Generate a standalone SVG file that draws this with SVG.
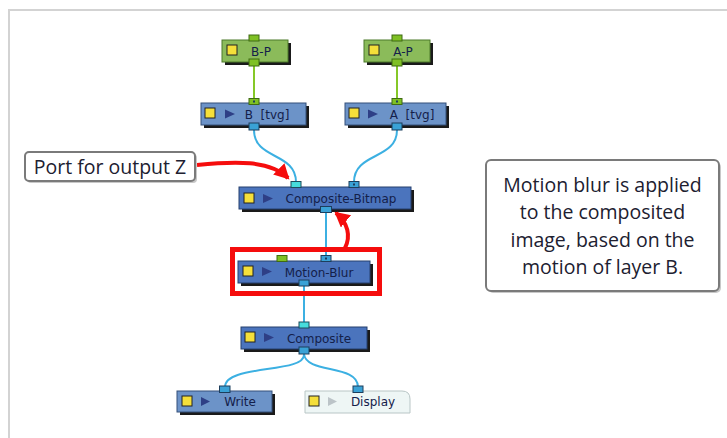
<svg xmlns="http://www.w3.org/2000/svg" width="727" height="438" viewBox="0 0 727 438">
<defs>
<style>
.frame{fill:none;stroke:#d3d3d3;stroke-width:2}
.sh{fill:#1a1a1a}
.nb{fill:#4b74bd;stroke:#26406e;stroke-width:1}
.nl{fill:#6c93c8;stroke:#34507a;stroke-width:1}
.ng{fill:#8bbb5a;stroke:#4d7a2a;stroke-width:1}
.nd{fill:#eef6f5;stroke:#b9c6c6;stroke-width:1}
.ys{fill:#f5df3a;stroke:#222;stroke-width:1}
.tri{fill:#2e3f86}
.tril{fill:#bcc4c8}
.pb{fill:#3aa2d6;stroke:#1d3e5c;stroke-width:1}
.pc{fill:#46dcdc;stroke:#1d4a5c;stroke-width:1}
.pg{fill:#7fc024;stroke:#3f6a12;stroke-width:1}
.dot{fill:#1d3e5c}
.t{font-family:"DejaVu Sans",Verdana,sans-serif;font-size:12px;fill:#14204a;text-anchor:middle}
.cb{fill:none;stroke:#3cb0e2;stroke-width:2}
.cg{fill:none;stroke:#86c828;stroke-width:2}
.red{fill:none;stroke:#f50d0d;stroke-width:4}
.box{fill:#fff;stroke:#7a7a7a;stroke-width:2}
.boxsh{fill:#c8c8c8}
.lt{font-family:"Open Sans","Noto Sans",sans-serif;font-size:19.5px;fill:#202030;text-anchor:middle}
</style>
<marker id="ah" markerUnits="userSpaceOnUse" markerWidth="18" markerHeight="18" refX="13" refY="8" orient="auto">
<path d="M0,0 L15,8 L0,16 Z" fill="#f50d0d"/>
</marker>
</defs>
<rect width="727" height="438" fill="#fff"/>
<polyline class="frame" points="9,438 9,10 727,10"/>

<g id="connectors">
<path class="cg" d="M254,66 V99"/>
<path class="cg" d="M397,66 V99"/>
<path class="cb" d="M254,130 C254,160 296,152 296,182"/>
<path class="cb" d="M397,130 C397,160 354,152 354,182"/>
<path class="cb" d="M326,212 V256"/>
<path class="cb" d="M304,286 V323"/>
<path class="cb" d="M304,354 C306,374 225,364 225,387"/>
<path class="cb" d="M304,354 C306,374 358,364 358,387"/>
</g>

<g id="node-BP">
<rect class="sh" x="225" y="43" width="66" height="22"/>
<rect class="ng" x="222" y="40" width="66" height="22"/>
<rect class="ys" x="227" y="45" width="10" height="10"/>
<text class="t" x="261" y="56">B-P</text>
<rect class="pg" x="249" y="35" width="10" height="6"/>
<rect class="pg" x="249" y="59" width="10" height="7"/>
</g>

<g id="node-AP">
<rect class="sh" x="367" y="43" width="66" height="22"/>
<rect class="ng" x="364" y="40" width="66" height="22"/>
<rect class="ys" x="369" y="45" width="10" height="10"/>
<text class="t" x="403" y="56">A-P</text>
<rect class="pg" x="392" y="35" width="10" height="6"/>
<rect class="pg" x="392" y="59" width="10" height="7"/>
</g>

<g id="node-B">
<rect class="sh" x="204" y="106" width="105" height="22"/>
<rect class="nl" x="201" y="103" width="105" height="22"/>
<rect class="ys" x="205" y="108" width="10" height="10"/>
<path class="tri" d="M225,109.5 L235,114 L225,118.5 Z"/>
<text class="t" x="267" y="119" style="white-space:pre">B  [tvg]</text>
<rect class="pg" x="249" y="98.5" width="10" height="6"/>
<rect class="dot" x="253" y="100.5" width="2" height="2"/>
<rect class="pb" x="249" y="123" width="10" height="7"/>
</g>

<g id="node-A">
<rect class="sh" x="348" y="106" width="101" height="22"/>
<rect class="nl" x="345" y="103" width="101" height="22"/>
<rect class="ys" x="349" y="108" width="10" height="10"/>
<path class="tri" d="M368,109.5 L378,114 L368,118.5 Z"/>
<text class="t" x="412" y="119" style="white-space:pre">A  [tvg]</text>
<rect class="pg" x="392" y="98.5" width="10" height="6"/>
<rect class="dot" x="396" y="100.5" width="2" height="2"/>
<rect class="pb" x="392" y="123" width="10" height="7"/>
</g>

<g id="node-CompositeBitmap">
<rect class="sh" x="242" y="190" width="172" height="22"/>
<rect class="nb" x="239" y="187" width="172" height="22"/>
<rect class="ys" x="244" y="193" width="10" height="10"/>
<path class="tri" d="M263,194 L273,198.5 L263,203 Z"/>
<text class="t" x="341" y="203">Composite-Bitmap</text>
<rect class="pc" x="291" y="181.5" width="10" height="6"/>
<rect class="pb" x="349" y="181.5" width="10" height="6"/>
<rect class="dot" x="353" y="183.5" width="2" height="2"/>
<rect class="pb" x="320.5" y="206.5" width="11" height="6"/>
</g>

<g id="node-MotionBlur">
<rect class="sh" x="241" y="264" width="132" height="22"/>
<rect class="nb" x="238" y="261" width="132" height="22"/>
<rect class="ys" x="243" y="266" width="10" height="10"/>
<path class="tri" d="M262,267 L272,271.5 L262,276 Z"/>
<text class="t" x="319" y="277">Motion-Blur</text>
<rect class="pg" x="277" y="255.5" width="10" height="6"/>
<rect class="pb" x="321" y="255.5" width="10" height="6"/>
<rect class="dot" x="325" y="257.5" width="2" height="2"/>
<rect class="pb" x="299" y="280" width="10" height="6"/>
</g>

<g id="node-Composite">
<rect class="sh" x="244" y="330" width="126" height="22"/>
<rect class="nb" x="241" y="327" width="126" height="22"/>
<rect class="ys" x="245" y="332" width="10" height="10"/>
<path class="tri" d="M264,333 L274,337.5 L264,342 Z"/>
<text class="t" x="319" y="343">Composite</text>
<rect class="pc" x="299" y="322" width="10" height="6"/>
<rect class="pb" x="299" y="347" width="10" height="7"/>
</g>

<g id="node-Write">
<rect class="sh" x="180" y="394" width="95" height="21"/>
<rect class="nl" x="177" y="391" width="95" height="21"/>
<rect class="ys" x="182" y="396" width="10" height="10"/>
<path class="tri" d="M201,397 L210,401.5 L201,406 Z"/>
<text class="t" x="240" y="406">Write</text>
<rect class="pb" x="219.5" y="386" width="10.5" height="6.5"/>
</g>

<g id="node-Display">
<path class="nd" d="M305,391 H402 Q410,391 410,399 V413 H305 Z"/>
<rect class="ys" x="309" y="396" width="10" height="10"/>
<path class="tril" d="M328,397 L337,401.5 L328,406 Z"/>
<text class="t" x="373" y="406">Display</text>
<rect class="pb" x="353" y="386" width="10" height="6.5"/>
</g>

<g id="highlight">
<rect x="232.5" y="249.5" width="147" height="44" fill="none" stroke="#f50d0d" stroke-width="5"/>
</g>

<g id="callouts">
<path class="red" d="M197,165 C235,161 270,160 288,178" marker-end="url(#ah)"/>
<path class="red" d="M345,248 C351,236 348,223 336,213" marker-end="url(#ah)"/>
</g>

<g id="label-port">
<rect class="boxsh" x="27" y="154" width="170" height="29" rx="4"/>
<rect class="box" x="25" y="152" width="170" height="29" rx="4"/>
<text class="lt" x="110" y="173.5">Port for output Z</text>
</g>

<g id="label-note">
<rect class="boxsh" x="488" y="162" width="233" height="131" rx="5"/>
<rect class="box" x="486" y="160" width="233" height="131" rx="5"/>
<text class="lt" x="602.5" y="191.5">Motion blur is applied</text>
<text class="lt" x="602.5" y="219">to the composited</text>
<text class="lt" x="602.5" y="246.5">image, based on the</text>
<text class="lt" x="602.5" y="274">motion of layer B.</text>
</g>
</svg>
